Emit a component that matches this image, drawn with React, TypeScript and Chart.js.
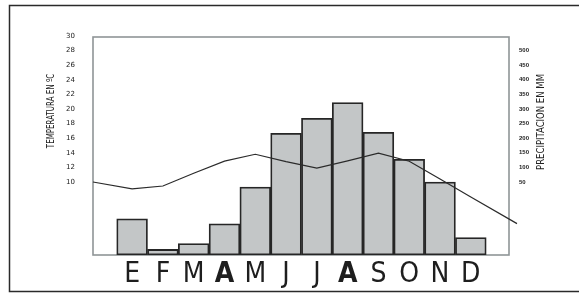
import React, { useEffect, useRef } from "react";
import { Chart, registerables } from "chart.js";

Chart.register(...registerables);

// ---- Data ----
const months = ["E", "F", "M", "A", "M", "J", "J", "A", "S", "O", "N", "D"];
// precipitation bars (mm, on the bar scale)
const precipitation = [124, 19, 39, 107, 233, 417, 468, 522, 420, 328, 250, 60];
// mean temperature (ºC) per month
const temperature = [9.05, 9.45, 11.2, 12.85, 13.8, 12.8, 11.9, 12.9, 13.95, 12.85, 10.4, 7.95];
// line extends to both edges of the plot
const tempStartValue = 10.0;
const tempEndValue = 4.3;
const X_MIN = -1.27;
const X_MAX = 12.24;
const X_END = 12.5;
const tempTicks = [10, 12, 14, 16, 18, 20, 22, 24, 26, 28, 30];
const precipTicks = [50, 100, 150, 200, 250, 300, 350, 400, 450, 500];
const boldLetters = [3, 7];

const NARROW = "'Liberation Sans Narrow', 'DejaVu Sans Condensed', 'Liberation Sans', Arial, sans-serif";

const W = 579;
const H = 293;

function drawVerticalTitle(ctx: any, text: string, cx: number, cy: number, squeeze: number) {
  ctx.save();
  ctx.fillStyle = "#222";
  ctx.textAlign = "center";
  ctx.textBaseline = "middle";
  ctx.font = `11px ${NARROW}`;
  ctx.translate(cx, cy);
  ctx.rotate(-Math.PI / 2);
  ctx.scale(squeeze, 1);
  ctx.fillText(text, 0, 0);
  ctx.restore();
}

const decorPlugin = {
  id: "decor",
  beforeDraw(chart: any) {
    const ctx = chart.ctx;
    ctx.save();
    ctx.fillStyle = "#ffffff";
    ctx.fillRect(0, 0, chart.width, chart.height);
    // outer frame
    ctx.strokeStyle = "#2a2a2a";
    ctx.lineWidth = 1.5;
    ctx.strokeRect(9.5, 5.5, 700, 286);
    ctx.restore();
  },
  beforeDatasetsDraw(chart: any) {
    const ctx = chart.ctx;
    const a = chart.chartArea;
    ctx.save();
    ctx.strokeStyle = "#8f9597";
    ctx.lineWidth = 1.6;
    ctx.strokeRect(a.left, a.top + 1, a.right - a.left, a.bottom - a.top - 1);
    ctx.restore();
  },
  afterDraw(chart: any) {
    const ctx = chart.ctx;
    drawVerticalTitle(ctx, "TEMPERATURA EN ºC", 51, 111, 0.72);
    drawVerticalTitle(ctx, "PRECIPITACION EN MM", 541, 122, 0.86);
  },
};

export default function App() {
  const ref = useRef<HTMLCanvasElement | null>(null);

  useEffect(() => {
    if (!ref.current) return;
    const barData = precipitation.map((v, i) => ({ x: i, y: v }));
    const lineData = [
      { x: X_MIN, y: tempStartValue },
      ...temperature.map((v, i) => ({ x: i, y: v })),
      { x: X_END, y: tempEndValue },
    ];
    const chart = new Chart(ref.current, {
      type: "bar",
      data: {
        datasets: [
          {
            type: "line",
            data: lineData,
            xAxisID: "x",
            yAxisID: "y",
            borderColor: "#2b2b2b",
            borderWidth: 1.2,
            pointRadius: 0,
            tension: 0,
            clip: false,
            order: 0,
          } as any,
          {
            type: "bar",
            data: barData,
            xAxisID: "x",
            yAxisID: "yb",
            backgroundColor: "#c3c6c7",
            borderColor: "#262626",
            borderWidth: 1.8,
            borderSkipped: false,
            barPercentage: 1,
            categoryPercentage: 1,
            order: 1,
          } as any,
        ],
      },
      options: {
        responsive: false,
        animation: false,
        layout: { padding: { top: 36, left: 0, right: 0, bottom: 0 } },
        plugins: { legend: { display: false }, tooltip: { enabled: false } },
        scales: {
          x: {
            type: "linear",
            min: X_MIN,
            max: X_MAX,
            offset: false,
            grid: { display: false },
            border: { display: false },
            afterBuildTicks: (scale: any) => {
              scale.ticks = months.map((_, i) => ({ value: i }));
            },
            afterFit: (scale: any) => {
              scale.height = H - 255;
            },
            ticks: {
              autoSkip: false,
              maxRotation: 0,
              padding: -5,
              color: "#1e1e1e",
              font: (c: any) => ({
                family: NARROW,
                size: 28,
                weight: boldLetters.includes(c.index) ? "bold" : "normal",
              }),
              callback: (_v: any, i: number) => months[i],
            },
          },
          y: {
            type: "linear",
            position: "left",
            min: 0,
            max: 30,
            grid: { display: false },
            border: { display: false },
            afterBuildTicks: (scale: any) => {
              scale.ticks = tempTicks.map((v) => ({ value: v }));
            },
            afterFit: (scale: any) => {
              scale.width = 93;
            },
            ticks: {
              padding: 10,
              color: "#222",
              font: { family: "'DejaVu Sans', sans-serif", size: 7 },
            },
          },
          y1: {
            type: "linear",
            position: "right",
            min: -200,
            max: 550,
            grid: { display: false },
            border: { display: false },
            afterBuildTicks: (scale: any) => {
              scale.ticks = precipTicks.map((v) => ({ value: v }));
            },
            afterFit: (scale: any) => {
              scale.width = W - 509;
            },
            ticks: {
              padding: 2,
              color: "#222",
              font: { family: "'Liberation Sans', Arial, sans-serif", size: 6, weight: "bold" },
            },
          },
          yb: {
            type: "linear",
            display: false,
            min: 0,
            max: 750,
          },
        },
      } as any,
      plugins: [decorPlugin],
    });
    return () => chart.destroy();
  }, []);

  return (
    <div style={{ position: "fixed", left: 0, top: 0, width: W, height: H, background: "#fff" }}>
      <canvas ref={ref} width={W} height={H} style={{ display: "block" }} />
    </div>
  );
}
